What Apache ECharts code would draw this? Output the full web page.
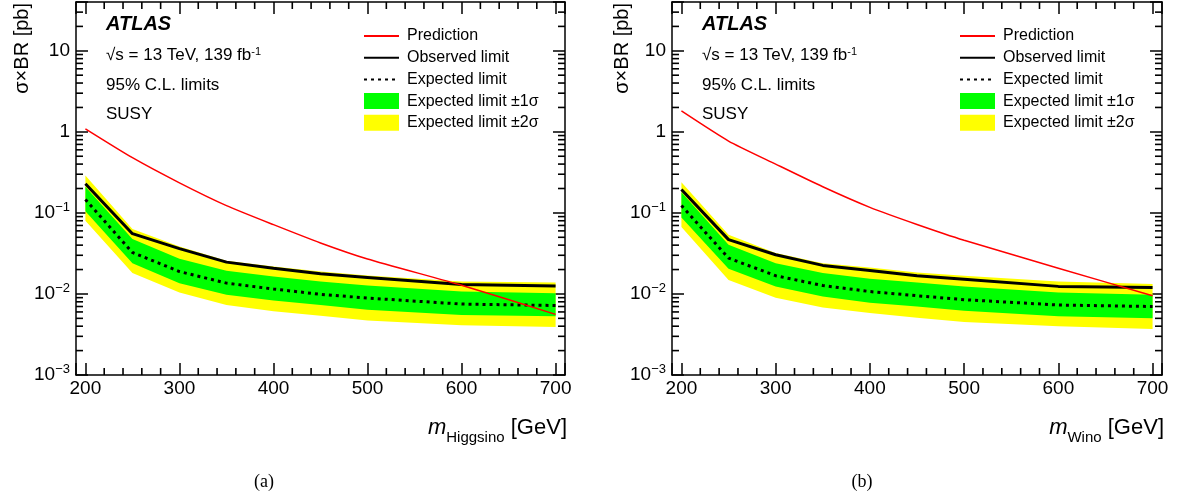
<!DOCTYPE html>
<html>
<head>
<meta charset="utf-8">
<script src="https://cdn.jsdelivr.net/npm/echarts@6/dist/echarts.min.js"></script>
<style>
html,body{margin:0;padding:0;background:#fff;}
#chart{width:1184px;height:500px;}
</style>
</head>
<body>
<div id="chart"></div>
<script>
// ---------------- data ----------------
const mass = [200, 250, 300, 350, 400, 450, 500, 600, 700];
const xTickLabels = [200, 300, 400, 500, 600, 700];

const higgsinoPrediction = [1.09, 0.48, 0.235, 0.123, 0.0716, 0.0426, 0.027, 0.0128, 0.0056];
const higgsinoObserved   = [0.229, 0.0554, 0.0362, 0.0247, 0.0208, 0.0177, 0.016, 0.0131, 0.0125];
const higgsinoExpected   = [0.146, 0.0325, 0.0189, 0.0136, 0.0115, 0.0099, 0.0089, 0.0075, 0.0072];
const higgsinoUp1        = [0.21, 0.0476, 0.0272, 0.0193, 0.0164, 0.0142, 0.0127, 0.0107, 0.0102];
const higgsinoDown1      = [0.105, 0.024, 0.0136, 0.0098, 0.0083, 0.0073, 0.0064, 0.0055, 0.0053];
const higgsinoUp2        = [0.29, 0.0634, 0.0386, 0.0257, 0.0218, 0.0189, 0.0169, 0.0142, 0.0138];
const higgsinoDown2      = [0.08, 0.0181, 0.0104, 0.0073, 0.0061, 0.0054, 0.0047, 0.0041, 0.0039];

const winoPrediction = [1.81, 0.77, 0.40, 0.21, 0.117, 0.072, 0.046, 0.0208, 0.0095];
const winoObserved   = [0.194, 0.0468, 0.0305, 0.0225, 0.0195, 0.0168, 0.0152, 0.0124, 0.012];
const winoExpected   = [0.123, 0.0277, 0.0168, 0.0127, 0.0107, 0.0095, 0.0085, 0.0073, 0.007];
const winoUp1        = [0.18, 0.0406, 0.024, 0.0181, 0.0154, 0.0138, 0.0124, 0.0104, 0.0098];
const winoDown1      = [0.088, 0.0205, 0.0124, 0.0093, 0.0078, 0.007, 0.0062, 0.0053, 0.005];
const winoUp2        = [0.239, 0.0538, 0.032, 0.024, 0.0212, 0.0184, 0.0168, 0.0142, 0.0133];
const winoDown2      = [0.067, 0.0149, 0.009, 0.0068, 0.0058, 0.0051, 0.0045, 0.004, 0.0037];

const legendNames = ['Prediction', 'Observed limit', 'Expected limit', 'Expected limit \u00b11\u03c3', 'Expected limit \u00b12\u03c3'];
const panelTitles = ['Higgsino', 'Wino'];
const captions = ['(a)', '(b)'];

// ---------------- layout / style ----------------
const FONT = '"Liberation Sans", Arial, Helvetica, sans-serif';
const XMIN = 190, XMAX = 710, YMIN = 0.001, YMAX = 40;
const grids = [
  {left: 76, top: 2, width: 489, height: 373},
  {left: 672, top: 2, width: 490, height: 373}
];

function pairs(xs, ys) { return xs.map((x, i) => [x, ys[i]]); }
function triples(xs, lo, hi) { return xs.map((x, i) => [x, lo[i], hi[i]]); }

function xAxisDef(gi, pos, sub) {
  const bottom = pos === 'bottom';
  return {
    type: 'value', gridIndex: gi, position: pos, min: XMIN, max: XMAX,
    axisLine: {show: true, onZero: false, lineStyle: {color: '#000', width: 1.5}},
    axisTick: {show: true, inside: true, length: 12, lineStyle: {color: '#000', width: 1.5}},
    splitLine: {show: false},
    axisLabel: bottom ? {
      show: true, margin: 4, color: '#000', fontSize: 19, fontFamily: FONT,
      formatter: v => xTickLabels.some(t => Math.abs(t - v) < 1e-6) ? String(Math.round(v)) : ''
    } : {show: false},
    name: bottom ? '{i|m}{s|' + sub + '}{n| [GeV]}' : '',
    nameLocation: 'end', nameGap: 2,
    nameTextStyle: {
      align: 'right', verticalAlign: 'top', padding: [40, 0, 0, 0],
      rich: {
        i: {fontSize: 22, fontStyle: 'italic', fontFamily: FONT, color: '#000', lineHeight: 26},
        s: {fontSize: 15, fontFamily: FONT, color: '#000', lineHeight: 15, verticalAlign: 'bottom', padding: [0, 0, -4, 0]},
        n: {fontSize: 22, fontFamily: FONT, color: '#000', lineHeight: 26}
      }
    }
  };
}

function yLabel(v) {
  const e = Math.log10(v);
  const n = Math.round(e);
  if (Math.abs(e - n) > 1e-6) return '';
  if (n === 0) return '{b|1}';
  if (n === 1) return '{b|10}';
  return '{b|10}{s|\u2212' + (-n) + '}';
}

function yAxisDef(gi, pos) {
  const left = pos === 'left';
  return {
    type: 'log', logBase: 10, gridIndex: gi, position: pos, min: YMIN, max: YMAX,
    axisLine: {show: true, onZero: false, lineStyle: {color: '#000', width: 1.5}},
    axisTick: {show: true, inside: true, length: 12, lineStyle: {color: '#000', width: 1.5}},
    splitLine: {show: false},
    minorTick: {show: false},
    axisLabel: left ? {
      show: true, margin: 6, formatter: yLabel,
      rich: {
        b: {fontSize: 19, fontFamily: FONT, color: '#000', lineHeight: 24},
        s: {fontSize: 13, fontFamily: FONT, color: '#000', lineHeight: 13, verticalAlign: 'top'}
      }
    } : {show: false}
  };
}

// minor tick values on each axis
const xMinorValues = [];
for (let v = 220; v < 700; v += 20) if (v % 100 !== 0) xMinorValues.push(v);
const yMinorValues = [];
for (let k = -3; k <= 1; k++) for (let m = 2; m <= 9; m++) {
  const v = m * Math.pow(10, k);
  if (v < YMAX) yMinorValues.push(v);
}
const MINOR_LEN = 7;
const MINOR_W = 1.6;

// band polygon between column 1 (low) and column 2 (high), drawn once per series
function renderBand(params, api) {
  if (params.dataIndexInside !== 0) return null;
  const n = params.dataInsideLength;
  const top = [], bot = [];
  for (let j = 0; j < n; j++) {
    top.push(api.coord([api.value(0, j), api.value(2, j)]));
    bot.push(api.coord([api.value(0, j), api.value(1, j)]));
  }
  return {type: 'polygon', shape: {points: top.concat(bot.reverse())},
    style: {fill: api.visual('color'), stroke: null}};
}

function panelSeries(gi, pred, obs, exp, up1, dn1, up2, dn2) {
  const xi = gi * 2, yi = gi * 2;
  const base = {type: 'line', xAxisIndex: xi, yAxisIndex: yi, symbol: 'none', showSymbol: false, animation: false};
  return [
    {type: 'custom', name: legendNames[4], xAxisIndex: xi, yAxisIndex: yi, data: triples(mass, dn2, up2),
      encode: {x: 0, y: [1, 2]}, itemStyle: {color: '#ffff00'}, renderItem: renderBand, z: 1, animation: false},
    {type: 'custom', name: legendNames[3], xAxisIndex: xi, yAxisIndex: yi, data: triples(mass, dn1, up1),
      encode: {x: 0, y: [1, 2]}, itemStyle: {color: '#00ff00'}, renderItem: renderBand, z: 1, animation: false},
    Object.assign({}, base, {name: legendNames[2], data: pairs(mass, exp), color: '#000', z: 3,
      lineStyle: {color: '#000', width: 3, type: [3, 4]}}),
    Object.assign({}, base, {name: legendNames[1], data: pairs(mass, obs), color: '#000', z: 3,
      lineStyle: {color: '#000', width: 3}}),
    Object.assign({}, base, {name: legendNames[0], data: pairs(mass, pred), color: '#ff0000', z: 4,
      smooth: 0.2, lineStyle: {color: '#ff0000', width: 1.5}})
  ];
}

const hideSym = {opacity: 0};
const legendData = [
  {name: legendNames[0], itemStyle: hideSym},
  {name: legendNames[1], itemStyle: hideSym},
  {name: legendNames[2], itemStyle: hideSym},
  {name: legendNames[3], icon: 'rect'},
  {name: legendNames[4], icon: 'rect'}
];

function legendDef(left) {
  return {
    left: left, top: 28, orient: 'vertical', itemWidth: 35, itemHeight: 16, itemGap: 5.7,
    selectedMode: false, padding: 0,
    textStyle: {fontSize: 16, color: '#000', fontFamily: FONT, lineHeight: 16, padding: [0, 0, 0, 3]},
    data: legendData
  };
}

function annot(x0) {
  return [
    {type: 'text', x: x0, y: 24, z: 10, style: {text: 'ATLAS', font: 'italic bold 20px ' + FONT, fill: '#000', verticalAlign: 'middle'}},
    {type: 'text', x: x0, y: 55, z: 10, style: {text: '\u221as = 13 TeV, 139 fb{sup|-1}', font: '17px ' + FONT, fill: '#000', verticalAlign: 'middle',
      rich: {sup: {fontSize: 11, fontFamily: FONT, fill: '#000', verticalAlign: 'top', lineHeight: 11}}}},
    {type: 'text', x: x0, y: 85, z: 10, style: {text: '95% C.L. limits', font: '17px ' + FONT, fill: '#000', verticalAlign: 'middle'}},
    {type: 'text', x: x0, y: 114, z: 10, style: {text: 'SUSY', font: '17px ' + FONT, fill: '#000', verticalAlign: 'middle'}}
  ];
}

function yTitle(x) {
  return {type: 'text', x: x, y: 3, rotation: Math.PI / 2,
    style: {text: '\u03c3\u00d7BR [pb]', font: '20px ' + FONT, fill: '#000', align: 'right', verticalAlign: 'middle'}};
}

const option = {
  animation: false,
  backgroundColor: '#fff',
  grid: grids,
  xAxis: [xAxisDef(0, 'bottom', panelTitles[0]), xAxisDef(0, 'top'), xAxisDef(1, 'bottom', panelTitles[1]), xAxisDef(1, 'top')],
  yAxis: [yAxisDef(0, 'left'), yAxisDef(0, 'right'), yAxisDef(1, 'left'), yAxisDef(1, 'right')],
  legend: [legendDef(363), legendDef(959)],
  series: [].concat(
    panelSeries(0, higgsinoPrediction, higgsinoObserved, higgsinoExpected, higgsinoUp1, higgsinoDown1, higgsinoUp2, higgsinoDown2),
    panelSeries(1, winoPrediction, winoObserved, winoExpected, winoUp1, winoDown1, winoUp2, winoDown2)
  ),
  graphic: [].concat(
    annot(106), annot(702),
    [yTitle(22), yTitle(622),
     {type: 'text', x: 264, y: 482, style: {text: captions[0], font: '18px "Liberation Serif", "Times New Roman", serif', fill: '#000', align: 'center', verticalAlign: 'middle'}},
     {type: 'text', x: 862, y: 482, style: {text: captions[1], font: '18px "Liberation Serif", "Times New Roman", serif', fill: '#000', align: 'center', verticalAlign: 'middle'}}]
  )
};

const chart = echarts.init(document.getElementById('chart'), null, {renderer: 'canvas'});
chart.setOption(option);

// minor ticks as thin filled rects; positions come from the chart's own axes (convertToPixel)
const tickEls = [];
[0, 1].forEach(gi => {
  const finder = {xAxisIndex: gi * 2, yAxisIndex: gi * 2};
  const bl = chart.convertToPixel(finder, [XMIN, YMIN]);
  const tr = chart.convertToPixel(finder, [XMAX, YMAX]);
  const xl = bl[0], yb = bl[1], xr = tr[0], yt = tr[1];
  xMinorValues.forEach(v => {
    const px = chart.convertToPixel(finder, [v, 1])[0];
    tickEls.push({type: 'rect', z: 100, shape: {x: px - MINOR_W / 2, y: yb - MINOR_LEN, width: MINOR_W, height: MINOR_LEN}, style: {fill: '#000'}});
    tickEls.push({type: 'rect', z: 100, shape: {x: px - MINOR_W / 2, y: yt, width: MINOR_W, height: MINOR_LEN}, style: {fill: '#000'}});
  });
  yMinorValues.forEach(v => {
    const py = chart.convertToPixel(finder, [300, v])[1];
    tickEls.push({type: 'rect', z: 100, shape: {x: xl, y: py - MINOR_W / 2, width: MINOR_LEN, height: MINOR_W}, style: {fill: '#000'}});
    tickEls.push({type: 'rect', z: 100, shape: {x: xr - MINOR_LEN, y: py - MINOR_W / 2, width: MINOR_LEN, height: MINOR_W}, style: {fill: '#000'}});
  });
});
option.graphic = option.graphic.concat(tickEls);
chart.setOption(option, true);
</script>
</body>
</html>
